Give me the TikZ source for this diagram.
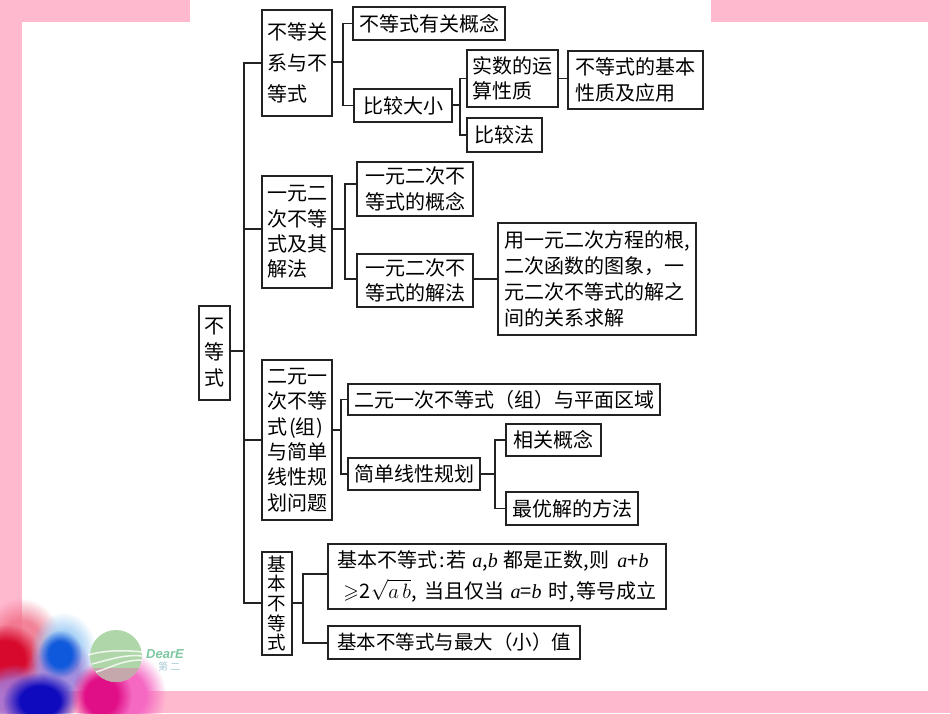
\documentclass[tikz,border=0pt]{standalone}
\usepackage{amssymb}
\usepackage{fontspec}
\setmainfont{Noto Sans CJK SC}
\newfontfamily\latf{Liberation Serif}
\newfontfamily\logof{Liberation Sans}
\usetikzlibrary{fadings}
\definecolor{bgpink}{HTML}{FFB9CF}
\definecolor{ink}{HTML}{222222}
\definecolor{wcrose}{HTML}{F06E87}
\definecolor{wcred}{HTML}{D70A2D}
\definecolor{wcsky}{HTML}{A0CDF5}
\definecolor{wcviolet}{HTML}{9678D7}
\definecolor{wcblue}{HTML}{0F5ADC}
\definecolor{wcpurple}{HTML}{A56ECD}
\definecolor{wcnavy}{HTML}{0F0ABE}
\definecolor{wcpink}{HTML}{F569C3}
\definecolor{wcmag}{HTML}{E10F87}
\definecolor{logogreen}{HTML}{AFD6A8}
\definecolor{logogrey}{HTML}{C4A8AC}
\definecolor{logotxt}{HTML}{7DC8A0}
\definecolor{logosub}{HTML}{AACDD7}
\pgfdeclareradialshading{softbsh}{\pgfpointorigin}{color(0bp)=(pgftransparent!0); color(13bp)=(pgftransparent!0); color(25bp)=(pgftransparent!100); color(50bp)=(pgftransparent!100)}
\pgfdeclarefading{softb}{\pgfuseshading{softbsh}}
\tikzset{
  box/.style={draw=ink,line width=1.5pt,fill=white,align=left,inner sep=0pt,text=black},
  conn/.style={draw=ink,line width=1.5pt,line join=miter},
  fs/.style={font=\fontsize{20}{#1}\selectfont},
  blob/.style={fill=#1,path fading=softb},
}
\newcommand\bx[7][]{\node[box,#1,minimum width={(#5-#3)*1pt},minimum height={(#6-#4)*1pt}] (#2) at ({(#3+#5)/2},{(#4+#6)/2}) {#7};}
\newcommand\va{{\latf\itshape a}}
\newcommand\vb{{\latf\itshape b}}
\begin{document}
\begin{tikzpicture}[x=1pt,y=-1pt]
\useasboundingbox (0,0) rectangle (950,713);
\clip (0,0) rectangle (950,713);
% background
\fill[bgpink] (0,0) rectangle (950,713);
\fill[white] (22,22) rectangle (928,691);
\fill[white] (190,0) rectangle (711,22);
% watercolour
\fill[blob=wcrose,opacity=.85] (-20,598) rectangle (62,692);
\fill[blob=wcred] (-30,624) rectangle (42,694);
\fill[blob=wcsky,opacity=.9] (30,612) rectangle (96,690);
\fill[blob=wcviolet,opacity=.8] (26,636) rectangle (94,708);
\fill[blob=wcblue] (38,630) rectangle (82,678);
\fill[blob=wcpurple,opacity=.9] (-24,664) rectangle (54,730);
\fill[blob=wcnavy] (2,672) rectangle (78,730);
\fill[blob=wcpink] (80,650) rectangle (166,740);
\fill[blob=wcmag] (70,662) rectangle (132,730);
% logo
\fill[logogreen] (116,656) circle (26);
\begin{scope}
\clip (90,668) rectangle (142,690);
\fill[logogrey] (116,656) circle (26);
\end{scope}
\draw[white,opacity=.8,line width=1.5pt] (88,655) .. controls (105,650) and (125,650) .. (142,652);
\draw[white,opacity=.8,line width=1.5pt] (92,664) .. controls (108,660) and (125,654) .. (142,656);
\draw[white,opacity=.8,line width=1.5pt] (96,672) .. controls (110,668) and (122,660) .. (142,660);
\node[text=logotxt,font=\logof\bfseries\itshape\fontsize{13}{13}\selectfont,inner sep=0pt,anchor=west] (logotext) at (146,654) {DearE};
\node[text=logosub,font=\fontsize{10}{10}\selectfont,inner sep=0pt,anchor=west] (logosubt) at (158,667) {第 二};
% boxes
\bx[fs=26]{R}{199}{306}{230}{400}{不\\等\\式}
\bx[fs=31]{A}{262}{10}{332}{116}{不等关\\系与不\\等式}
\bx[fs=25]{A1}{353}{7}{505}{40}{不等式有关概念}
\bx[fs=25]{A2}{354}{89}{452}{122}{比较大小}
\bx[fs=25]{A21}{467}{50}{558}{107}{实数的运\\算性质}
\bx[fs=25]{A22}{467}{118}{542}{152}{比较法}
\bx[fs=26]{A211}{568}{51}{703}{109}{不等式的基本\\性质及应用}
\bx[fs=25.4]{B}{262}{176}{332}{288}{一元二\\次不等\\式及其\\解法}
\bx[fs=25.4]{B1}{357}{162}{473}{216}{一元二次不\\等式的概念}
\bx[fs=25.4]{B2}{357}{254}{473}{307}{一元二次不\\等式的解法}
\bx[fs=26]{B21}{498}{223}{696}{335}{用一元二次方程的根,\\二次函数的图象，一\\元二次不等式的解之\\间的关系求解}
\bx[fs=25.4]{C}{262}{360}{332}{520}{二元一\\次不等\\式\kern2pt(组\kern1pt)\\与简单\\线性规\\划问题}
\bx[fs=25]{C1}{348}{384}{660}{415}{二元一次不等式（组）与平面区域}
\bx[fs=25]{C2}{348}{458}{480}{490}{简单线性规划}
\bx[fs=25]{C21}{506}{424}{601}{456}{相关概念}
\bx[fs=25]{C22}{506}{492}{638}{525}{最优解的方法}
\bx[font=\fontsize{18.5}{19.6}\selectfont]{D}{262}{552}{292}{655}{基\\本\\不\\等\\式}
\bx[fs=31]{D1}{328}{544}{666}{609}{基本不等式\kern2pt:\kern2pt若\kern1pt{} \va,\vb{}\kern1pt{} 都是正数,\kern1pt则\kern3pt{} \va+\vb\\\kern6pt$\geqslant$\kern1pt2$\sqrt{a\,b}$,\kern3pt{} 当且仅当\kern2pt{} \va=\vb\kern2pt{} 时\kern1pt,\kern2pt等号成立}
\bx[font=\fontsize{19.5}{25}\selectfont]{D2}{328}{626}{580}{659}{基本不等式与最大（小）值}
% junctions
\coordinate (tA) at (244,63);
\coordinate (tB) at (244,229);
\coordinate (tR) at (244,351);
\coordinate (tC) at (244,440);
\coordinate (tD) at (244,603);
\coordinate (jA) at (343,62);
\coordinate (jA2) at (460,105);
\coordinate (jB) at (345,229);
\coordinate (jC) at (341,430);
\coordinate (jC2) at (495,474);
\coordinate (jD) at (303,603);
% connectors
\draw[conn] (A.west |- tA) -- (tA) -- (tD) -- (D.west |- tD);
\draw[conn] (B.west |- tB) -- (tB);
\draw[conn] (C.west |- tC) -- (tC);
\draw[conn] (R.east |- tR) -- (tR);
\draw[conn] (A.east |- jA) -- (jA);
\draw[conn] (A1.west) -| (jA) |- (A2.west);
\draw[conn] (A2.east |- jA2) -- (jA2);
\draw[conn] (A21.west) -| (jA2) |- (A22.west);
\draw[conn] (A21.east) -- (A211.west |- A21.east);
\draw[conn] (B.east |- jB) -- (jB);
\draw[conn] (B1.west |- 0,184) -| (jB) |- (B2.west |- 0,279);
\draw[conn] (B2.east |- 0,279) -- (B21.west |- 0,279);
\draw[conn] (C.east |- jC) -- (jC);
\draw[conn] (C1.west) -| (jC) |- (C2.west);
\draw[conn] (C2.east |- jC2) -- (jC2);
\draw[conn] (C21.west) -| (jC2) |- (C22.west);
\draw[conn] (D.east |- jD) -- (jD);
\draw[conn] (D1.west |- 0,574) -| (jD) |- (D2.west |- 0,643);
\end{tikzpicture}
\end{document}
